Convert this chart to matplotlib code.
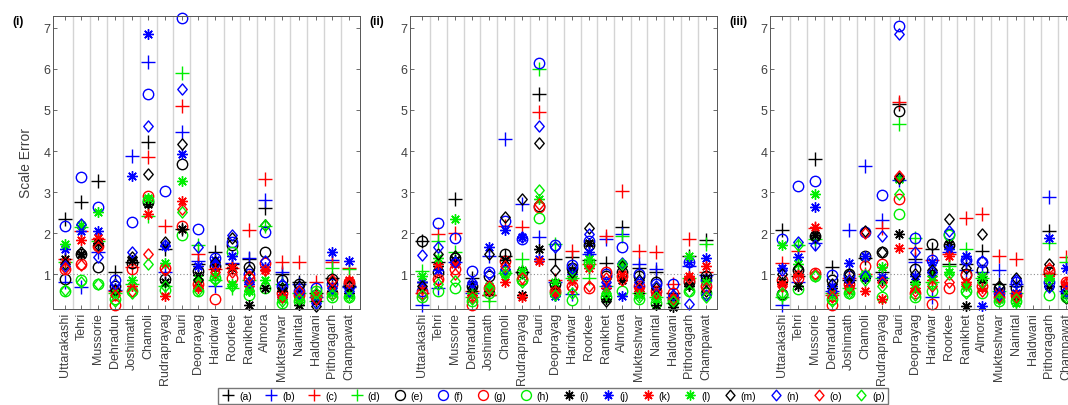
import numpy as np
import matplotlib
matplotlib.use('Agg')
import matplotlib.pyplot as plt
from matplotlib.path import Path
from matplotlib.lines import Line2D

plt.rcParams['font.family'] = ['Liberation Sans', 'DejaVu Sans']

stations = ['Uttarakashi', 'Tehri', 'Mussorie', 'Dehradun', 'Joshimath', 'Chamoli',
            'Rudraprayag', 'Pauri', 'Deoprayag', 'Haridwar', 'Roorkee', 'Ranikhet',
            'Almora', 'Mukteshwar', 'Nainital', 'Haldwani', 'Pithoragarh', 'Champawat']
series_names = ['(a)', '(b)', '(c)', '(d)', '(e)', '(f)', '(g)', '(h)',
                '(i)', '(j)', '(k)', '(l)', '(m)', '(n)', '(o)', '(p)']
panel_names = ['(i)', '(ii)', '(iii)']

# one row per station, columns are series (a) .. (p)
panel_i = [
    [2.34, 0.80, 1.38, 1.30, 0.88, 2.18, 1.12, 0.58, 1.38, 1.61, 1.30, 1.73, 1.25, 1.20, 1.15, 0.62],
    [2.75, 0.68, 2.05, 2.15, 1.50, 3.36, 1.25, 0.85, 1.48, 2.05, 1.82, 2.20, 1.55, 2.22, 1.22, 0.80],
    [3.26, 1.53, 1.85, 1.80, 1.17, 2.63, 1.68, 0.76, 1.75, 2.06, 1.88, 2.51, 1.70, 1.42, 1.66, 0.75],
    [1.05, 0.62, 0.60, 0.55, 0.70, 0.85, 0.25, 0.40, 0.60, 0.65, 0.58, 0.55, 0.62, 0.75, 0.50, 0.35],
    [1.30, 3.89, 1.17, 0.75, 1.28, 2.27, 1.12, 0.60, 1.35, 3.40, 0.70, 0.85, 1.42, 1.53, 0.58, 0.55],
    [4.21, 6.16, 3.85, 2.42, 2.75, 5.39, 2.91, 2.80, 2.70, 6.85, 2.47, 2.85, 3.44, 4.62, 1.49, 1.24],
    [1.62, 1.05, 2.18, 0.70, 0.88, 3.03, 1.15, 0.62, 0.80, 1.68, 0.47, 1.27, 1.78, 1.72, 1.10, 0.70],
    [2.10, 4.46, 5.10, 5.90, 3.68, 7.25, 2.18, 1.95, 2.10, 3.93, 2.78, 3.28, 4.17, 5.52, 2.58, 2.52],
    [1.25, 1.33, 1.50, 1.72, 1.08, 2.10, 0.75, 0.58, 0.97, 1.20, 0.67, 0.87, 0.85, 1.65, 0.70, 0.62],
    [1.55, 0.70, 1.12, 0.85, 1.20, 1.40, 0.40, 0.90, 1.22, 1.35, 1.15, 0.95, 1.30, 1.25, 1.05, 0.85],
    [1.25, 1.28, 1.15, 0.65, 1.70, 1.78, 0.90, 1.55, 1.15, 1.45, 1.18, 0.75, 1.88, 1.95, 1.05, 0.72],
    [1.38, 1.40, 2.08, 0.85, 1.17, 1.00, 0.90, 0.50, 0.24, 0.75, 0.72, 0.60, 1.10, 0.80, 0.95, 0.62],
    [2.62, 2.80, 3.32, 2.18, 1.53, 2.02, 1.28, 0.65, 0.65, 1.18, 1.10, 0.85, 2.20, 1.33, 1.10, 2.20],
    [1.00, 1.05, 1.29, 0.75, 0.85, 0.70, 0.55, 0.30, 0.60, 0.45, 0.50, 0.40, 0.65, 0.75, 0.45, 0.35],
    [0.82, 0.75, 1.30, 0.55, 0.75, 0.60, 0.50, 0.35, 0.25, 0.55, 0.45, 0.40, 0.70, 0.55, 0.60, 0.40],
    [0.55, 0.45, 0.80, 0.35, 0.50, 0.65, 0.45, 0.60, 0.35, 0.40, 0.50, 0.45, 0.22, 0.30, 0.40, 0.55],
    [0.90, 1.35, 1.30, 1.15, 0.88, 0.75, 0.55, 0.45, 0.60, 1.53, 0.70, 0.55, 0.80, 0.65, 0.85, 0.50],
    [0.70, 0.68, 1.15, 1.12, 0.75, 0.72, 0.80, 0.45, 0.55, 1.33, 0.85, 0.50, 0.70, 0.60, 0.80, 0.45],
]

panel_ii = [
    [1.81, 0.25, 0.55, 1.08, 1.80, 0.60, 0.55, 0.45, 0.80, 0.82, 0.62, 0.95, 0.70, 1.47, 0.50, 0.48],
    [1.30, 0.67, 1.97, 1.80, 1.04, 2.24, 0.88, 0.59, 1.20, 1.10, 1.25, 1.40, 1.50, 1.65, 0.85, 0.75],
    [2.83, 1.30, 2.00, 1.55, 1.40, 1.87, 1.12, 0.65, 1.35, 1.30, 1.25, 2.34, 1.45, 1.30, 1.00, 0.84],
    [0.91, 0.55, 0.60, 0.45, 0.70, 1.08, 0.25, 0.35, 0.60, 0.75, 0.50, 0.55, 0.65, 0.80, 0.45, 0.40],
    [0.48, 1.45, 0.50, 0.35, 0.95, 1.05, 0.65, 0.55, 0.60, 1.65, 0.62, 0.70, 1.48, 1.00, 0.70, 0.65],
    [1.45, 4.29, 2.18, 1.02, 1.50, 2.30, 1.33, 1.05, 1.35, 2.07, 0.80, 1.00, 2.39, 1.12, 1.20, 1.00],
    [1.05, 2.70, 2.14, 1.38, 1.05, 1.85, 0.88, 0.85, 0.48, 1.90, 0.45, 1.10, 2.83, 1.90, 0.90, 0.82],
    [5.40, 1.90, 4.94, 6.00, 2.65, 6.15, 2.63, 2.37, 1.60, 1.38, 1.33, 2.82, 4.19, 4.60, 2.72, 3.06],
    [1.37, 0.80, 0.85, 1.73, 0.75, 1.70, 0.60, 0.55, 0.70, 0.47, 0.55, 0.80, 1.10, 1.65, 0.60, 0.50],
    [1.42, 0.52, 1.57, 0.90, 1.15, 1.22, 0.72, 0.38, 1.09, 1.00, 0.85, 0.95, 1.05, 1.15, 0.65, 0.55],
    [1.35, 1.48, 1.25, 0.90, 1.70, 1.80, 0.65, 1.28, 1.76, 1.55, 1.15, 1.37, 2.12, 1.98, 0.72, 1.20],
    [1.28, 1.85, 1.92, 0.72, 0.95, 1.00, 1.05, 0.45, 0.40, 0.70, 0.65, 0.50, 0.35, 0.80, 0.90, 0.55],
    [2.14, 1.98, 3.02, 1.93, 1.05, 1.67, 0.95, 0.60, 0.85, 0.47, 1.00, 1.25, 1.20, 1.27, 0.85, 1.25],
    [1.16, 1.25, 1.57, 0.55, 0.95, 1.00, 0.70, 0.40, 0.55, 0.70, 0.60, 0.50, 0.85, 0.80, 0.65, 0.45],
    [1.04, 1.12, 1.53, 0.45, 0.80, 0.75, 0.60, 0.30, 0.25, 0.55, 0.50, 0.40, 0.65, 0.70, 0.55, 0.45],
    [0.55, 0.45, 0.75, 0.30, 0.40, 0.77, 0.55, 0.35, 0.20, 0.40, 0.45, 0.35, 0.30, 0.50, 0.40, 0.35],
    [1.43, 1.20, 1.85, 0.90, 0.80, 1.30, 0.85, 0.60, 0.70, 1.30, 0.95, 1.45, 0.75, 0.27, 0.90, 0.60],
    [1.84, 0.97, 1.05, 1.73, 0.95, 0.85, 0.70, 0.55, 0.90, 1.40, 1.20, 0.80, 0.60, 0.50, 0.65, 0.45],
]

nan = float('nan')
panel_iii = [
    [2.08, 0.25, 1.26, 0.45, 0.52, 1.85, 0.85, 0.50, 0.80, 1.15, 0.75, 1.70, 1.00, 1.10, 0.70, 0.55],
    [0.95, 0.80, 1.57, 1.70, 1.10, 3.15, 0.90, 0.63, 0.72, 1.41, 1.00, 1.25, 1.15, 1.78, 0.95, 1.72],
    [3.80, 1.75, 2.12, 1.85, 1.92, 3.26, 1.02, 0.95, 1.95, 2.63, 2.15, 2.96, 1.90, 1.72, 1.00, 0.95],
    [1.17, 0.60, 0.50, 0.55, 0.85, 0.98, 0.25, 0.40, 0.65, 0.70, 0.55, 0.50, 0.75, 0.60, 0.45, 0.35],
    [0.85, 2.08, 0.90, 0.65, 1.00, 0.95, 0.75, 0.55, 0.80, 1.26, 0.70, 0.60, 1.00, 0.85, 0.65, 0.55],
    [1.40, 3.64, 1.00, 0.95, 1.43, 2.02, 1.20, 0.95, 0.90, 1.45, 0.60, 1.00, 2.05, 0.95, 2.00, 0.85],
    [1.05, 2.31, 2.12, 0.90, 1.55, 2.93, 1.25, 0.45, 0.85, 0.92, 0.40, 1.18, 1.55, 1.93, 0.80, 0.70],
    [5.15, 3.30, 5.19, 4.66, 4.98, 7.05, 2.83, 2.46, 1.98, 3.35, 1.63, 3.32, 3.35, 6.85, 3.38, 2.95],
    [1.36, 1.30, 1.63, 1.88, 1.12, 1.87, 0.55, 0.45, 0.80, 0.95, 0.65, 0.75, 1.00, 1.55, 0.60, 0.50],
    [1.60, 0.45, 1.35, 0.80, 1.73, 1.35, 0.27, 0.60, 1.05, 1.30, 0.85, 0.95, 1.10, 1.05, 0.70, 0.75],
    [1.25, 1.55, 1.50, 1.20, 1.70, 1.98, 0.65, 1.95, 1.73, 1.60, 1.45, 1.05, 2.35, 2.05, 0.80, 1.00],
    [1.25, 1.10, 2.37, 1.60, 1.00, 1.35, 0.98, 0.60, 0.22, 1.45, 0.80, 0.70, 1.15, 1.35, 0.75, 0.55],
    [1.56, 1.05, 2.46, 0.90, 1.10, 1.30, 0.70, 0.55, 0.85, 0.22, 0.65, 0.95, 1.97, 1.33, 0.60, 0.80],
    [0.75, 1.10, 1.45, 0.60, 0.65, 0.55, 0.45, 0.35, 0.50, 0.60, 0.55, 0.40, 0.70, 0.50, 0.45, 0.40],
    [0.70, 0.75, 1.37, 0.55, 0.65, 0.80, 0.50, 0.35, 0.45, 0.55, 0.50, 0.30, 0.90, 0.85, 0.45, 0.40],
    [nan] * 16,
    [2.06, 2.87, 1.00, 1.77, 1.05, 0.80, 1.10, 0.50, 0.70, 1.87, 0.95, 0.90, 1.25, 0.68, 1.15, 0.85],
    [0.70, 0.60, 1.41, 1.30, 0.65, 0.55, 0.80, 0.45, 0.55, 1.15, 0.75, 0.50, 0.42, 0.60, 0.78, 0.45],
]

# marker styles, MATLAB-like
star = (8, 2, 0)
diamond = Path([(0, 1), (0.85, 0), (0, -1), (-0.85, 0), (0, 1)], closed=True)
colors = ['k', '#0000ff', '#ff0000', '#00ee00'] * 4
markers = ['+'] * 4 + ['o'] * 4 + [star] * 4 + [diamond] * 4
sizes = [9.5] * 4 + [7.5] * 4 + [7.5] * 4 + [8] * 4

fig = plt.figure(figsize=(10.68, 4.06), dpi=100)

W, H = 1068.0, 406.0
lefts = [53, 410, 770]
ax_w, top_px, bot_px = 307, 17, 310
x = np.arange(1, len(stations) + 1)
txt_col = '#404040'

for p, data in enumerate([panel_i, panel_ii, panel_iii]):
    vals = np.array(data, dtype=float)
    ax = fig.add_axes([lefts[p] / W, 1 - bot_px / H, ax_w / W, (bot_px - top_px) / H])
    for k in range(1, len(stations)):
        ax.axvline(k + 0.5, color='#d4d4d4', lw=1.0, zorder=0)
    ax.axhline(1, color='#8c8c8c', ls=(0, (1, 2)), lw=0.8, zorder=0.5)
    for j in range(len(series_names)):
        ax.plot(x, vals[:, j], ls='none', marker=markers[j], color=colors[j],
                ms=sizes[j], mew=1.0, mfc='none', clip_on=False)
    ax.set_xlim(0.3, 18.66)
    ax.set_ylim(0.15, 7.29)
    ax.set_yticks(range(1, 8))
    ax.set_xticks(x)
    ax.set_xticklabels(stations, rotation=90, fontsize=9, color=txt_col)
    ax.tick_params(direction='in', top=True, right=True, length=3, width=0.6,
                   color='#555555', labelsize=9, labelcolor=txt_col, pad=2)
    for s in ax.spines.values():
        s.set_color('#555555')
        s.set_linewidth(0.7)
    if p == 0:
        ax.set_ylabel('Scale Error', fontsize=10, color=txt_col, labelpad=7)
    fig.text((lefts[p] - 41) / W, 1 - 22 / H, panel_names[p],
             fontsize=8.5, fontweight='bold', ha='left', va='center')

handles = [Line2D([], [], ls='none', marker=markers[j], color=colors[j],
                  ms=sizes[j] * 0.95, mew=1.0, mfc='none') for j in range(16)]
fig.legend(handles, series_names, ncol=16, loc='lower center',
           bbox_to_anchor=(553 / W, 0.0), fontsize=7.5, frameon=True, fancybox=False,
           edgecolor='#555555', borderpad=0.3, handlelength=1.4, handletextpad=0.35,
           columnspacing=1.15, borderaxespad=0.1)

fig.savefig('out.png', dpi=100)
